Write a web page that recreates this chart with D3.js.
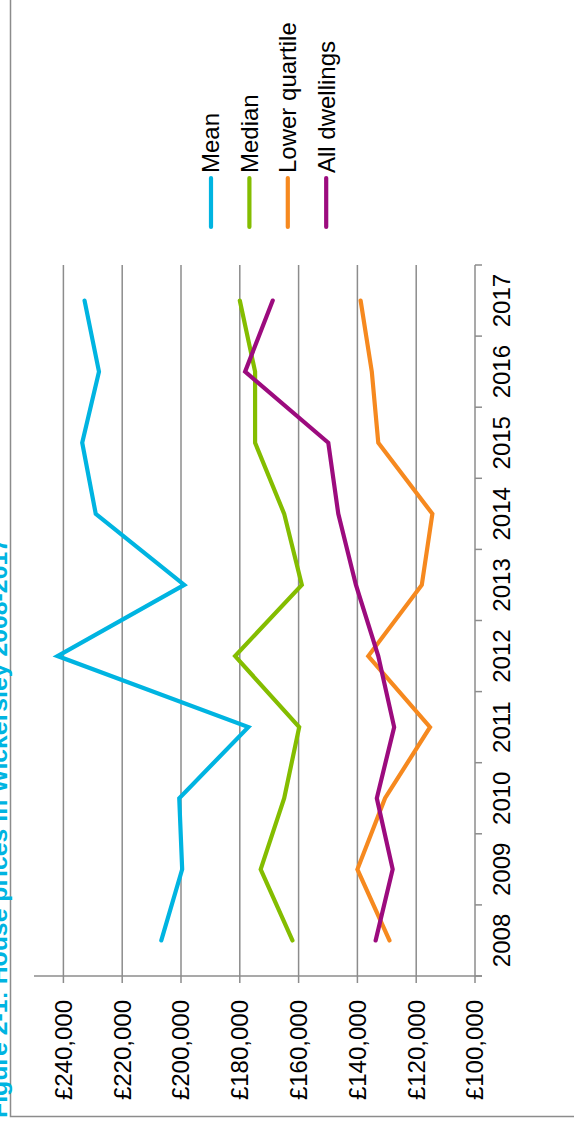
<!DOCTYPE html>
<html>
<head>
<meta charset="utf-8">
<script src="https://cdn.jsdelivr.net/npm/d3@7"></script>
<style>
  body { margin: 0; background: #fff; }
  svg { display: block; font-family: "Liberation Sans", Arial, sans-serif; }
</style>
</head>
<body>
<div id="chart"></div>
<script>
// house prices
var years = ["2008", "2009", "2010", "2011", "2012", "2013", "2014", "2015", "2016", "2017"];
var mean = [206700, 199600, 200600, 177100, 242000, 198900, 229000, 233600, 227900, 232800];
var median = [162100, 172900, 164900, 159800, 181600, 158900, 164900, 174800, 174800, 180000];
var lowerQuartile = [129100, 140000, 130600, 115300, 136300, 118100, 114500, 132900, 135100, 138900];
var allDwellings = [133800, 128000, 133400, 127500, 132900, 140500, 146500, 149900, 178200, 168800];
var seriesNames = ["Mean", "Median", "Lower quartile", "All dwellings"];
var colors = ["#00b4e1", "#84bd00", "#f6891f", "#9c0b7e"];
var valueTicks = [100000, 120000, 140000, 160000, 180000, 200000, 220000, 240000];
var title = "Figure 2-1: House prices in Wickersley 2008-2017";

var width = 574, height = 1125;
var gray = "#8c8c8c";

var svg = d3.select("#chart").append("svg")
    .attr("width", width)
    .attr("height", height);

// the whole figure is turned on its side, so draw it upright and rotate
var g = svg.append("g")
    .attr("transform", "translate(0," + height + ") rotate(-90)");

var series = [mean, median, lowerQuartile, allDwellings].map(function(vals, i) {
    return {name: seriesNames[i], color: colors[i], values: vals};
});

var x = d3.scaleBand()
    .domain(years)
    .range([149, 860]);
var y = d3.scaleLinear()
    .domain([100000, 250000])
    .range([475, 34]);
var bw = x.bandwidth();

// frame
g.append("rect")
    .attr("x", 8.5)
    .attr("y", 10.5)
    .attr("width", 1300)
    .attr("height", 700)
    .style("fill", "none")
    .style("stroke", gray)
    .style("stroke-width", 1.5);

// title (clipped by the page edge like the original)
g.append("text")
    .attr("x", 7)
    .attr("y", 7)
    .style("font-size", "24.8px")
    .style("font-weight", "bold")
    .style("fill", "#00b4e1")
    .text(title);

// gridlines
g.selectAll(".grid")
    .data(valueTicks.slice(1)).enter()
    .append("line")
    .attr("class", "grid")
    .attr("x1", 149)
    .attr("x2", 860)
    .attr("y1", function(d) { return y(d); })
    .attr("y2", function(d) { return y(d); })
    .style("stroke", gray)
    .style("stroke-width", 1.5);

// value axis
g.append("line")
    .attr("x1", 149).attr("x2", 149)
    .attr("y1", y(250000)).attr("y2", 482)
    .style("stroke", gray)
    .style("stroke-width", 1.5);
g.selectAll(".vtick")
    .data(valueTicks).enter()
    .append("line")
    .attr("class", "vtick")
    .attr("x1", 142).attr("x2", 149)
    .attr("y1", function(d) { return y(d); })
    .attr("y2", function(d) { return y(d); })
    .style("stroke", gray)
    .style("stroke-width", 1.5);
g.selectAll(".vlabel")
    .data(valueTicks).enter()
    .append("text")
    .attr("class", "vlabel")
    .attr("x", 125)
    .attr("y", function(d) { return y(d); })
    .attr("dy", "0.35em")
    .style("text-anchor", "end")
    .style("font-size", "24px")
    .text(function(d) { return "£" + d3.format(",")(d); });

// year axis
g.append("line")
    .attr("x1", 149).attr("x2", 860)
    .attr("y1", y(100000)).attr("y2", y(100000))
    .style("stroke", gray)
    .style("stroke-width", 1.5);
var bounds = years.map(function(d) { return x(d); }).concat([x.range()[1]]);
g.selectAll(".xtick")
    .data(bounds).enter()
    .append("line")
    .attr("class", "xtick")
    .attr("x1", function(d) { return d; })
    .attr("x2", function(d) { return d; })
    .attr("y1", y(100000))
    .attr("y2", y(100000) + 7)
    .style("stroke", gray)
    .style("stroke-width", 1.5);
g.selectAll(".xlabel")
    .data(years).enter()
    .append("text")
    .attr("class", "xlabel")
    .attr("x", function(d) { return x(d) + bw / 2; })
    .attr("y", y(100000) + 35)
    .style("text-anchor", "middle")
    .style("font-size", "24px")
    .text(function(d) { return d; });

// lines
var line = d3.line()
    .x(function(d, i) { return x(years[i]) + bw / 2; })
    .y(function(d) { return y(d); });

g.selectAll(".series")
    .data(series).enter()
    .append("path")
    .attr("class", "series")
    .attr("d", function(d) { return line(d.values); })
    .style("fill", "none")
    .style("stroke", function(d) { return d.color; })
    .style("stroke-width", 4.2)
    .style("stroke-linejoin", "miter")
    .style("stroke-linecap", "round");

// legend
var legend = g.selectAll(".legend")
    .data(series).enter()
    .append("g")
    .attr("class", "legend")
    .attr("transform", function(d, i) {
        return "translate(0," + (211 + i * 38.4) + ")";
    });
legend.append("line")
    .attr("x1", 898).attr("x2", 947)
    .attr("y1", 0).attr("y2", 0)
    .style("stroke", function(d) { return d.color; })
    .style("stroke-width", 4.2)
    .style("stroke-linecap", "round");
legend.append("text")
    .attr("x", 952)
    .attr("y", 0)
    .attr("dy", "0.35em")
    .style("font-size", "24px")
    .text(function(d) { return d.name; });
</script>
</body>
</html>
